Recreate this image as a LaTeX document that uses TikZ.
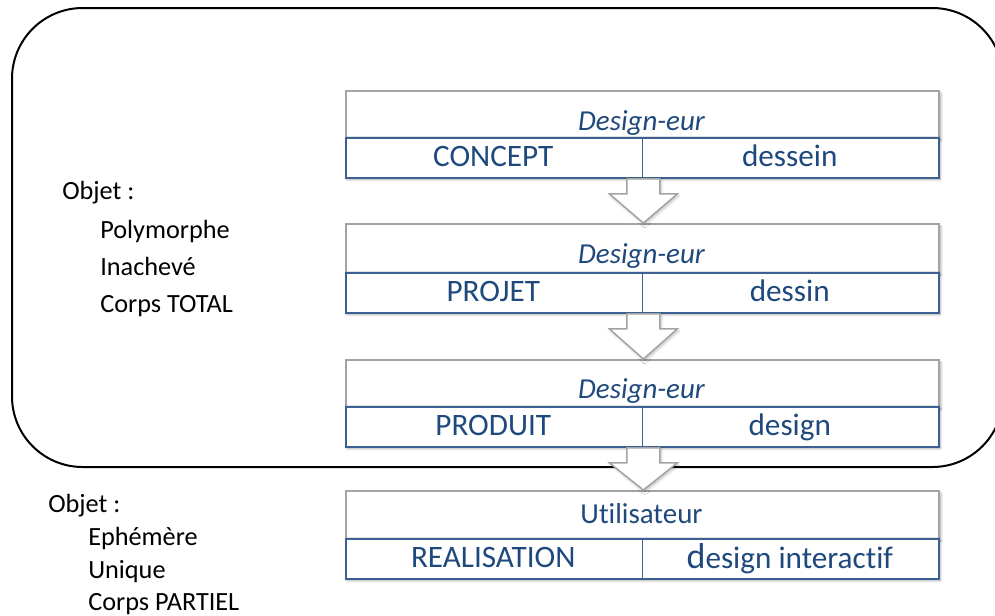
\documentclass[tikz,border=0pt]{standalone}
\usepackage{fontspec}
\setmainfont[Ligatures={NoCommon}]{Carlito}
\usetikzlibrary{shadows.blur}
\definecolor{txtblue}{HTML}{1F497D}
\definecolor{cellblue}{HTML}{3B6091}
\definecolor{boxgray}{HTML}{A3A3A3}
\begin{document}
\begin{tikzpicture}[x=0.75pt,y=-0.75pt,
  sh/.style={blur shadow={shadow xshift=1.5pt,shadow yshift=-1.8pt,shadow blur steps=6,shadow opacity=35}},
  headbox/.style={draw=boxgray,line width=1.3pt,fill=white,sh,minimum width=593*0.75pt,minimum height=47*0.75pt,anchor=north west,inner sep=0pt},
  cellbox/.style={draw=cellblue,line width=1.4pt,fill=white,minimum width=296.5*0.75pt,minimum height=40*0.75pt,anchor=north west,inner sep=0pt},
  celltxt/.style={text=txtblue,font=\fontsize{23.4}{27}\selectfont,anchor=base,inner sep=0pt},
  headtxt/.style={text=txtblue,font=\fontsize{21.7}{25}\selectfont\itshape,anchor=base,inner sep=0pt},
  sidetxt/.style={text=black,font=\fontsize{19.7}{23}\selectfont,anchor=base west,inner sep=0pt},
  downarrow/.style={draw=boxgray,line width=1.1pt,fill=white,line join=miter,
    blur shadow={shadow xshift=1pt,shadow yshift=-1.5pt,shadow blur steps=5,shadow opacity=25}}
]
\useasboundingbox (0,0) rectangle (995,615);
% outer rounded frame
\draw[line width=1.5pt,rounded corners=53pt] (12,8) rectangle (1003,467);

% boxes
\foreach \n/\t/\s in {1/90/137,2/223/272,3/359/406,4/490/538}{
  \node[headbox,minimum height={(\s-\t)*0.75pt}] (h\n) at (345,\t) {};
  \fill[white,sh] (345,\s) rectangle (938,\s+40);
  \node[cellbox] (l\n) at (345,\s) {};
  \node[cellbox] (r\n) at (641.5,\s) {};
}

% down arrows between boxes
\foreach \a/\b in {1/2,2/3,3/4}{
  \path let \p1=(l\a.south east), \p2=(h\b.north) in
    coordinate (s\a) at (\x1,\y1) coordinate (e\a) at (\x1,\y2);
  \filldraw[downarrow]
    ($(s\a)+(-16.5*0.75pt,0)$) -- ($(s\a)+(16.5*0.75pt,0)$)
    -- ($(s\a)+(16.5*0.75pt,-15*0.75pt)$) -- ($(s\a)+(34*0.75pt,-15*0.75pt)$)
    -- (e\a) -- ($(s\a)+(-34*0.75pt,-15*0.75pt)$)
    -- ($(s\a)+(-16.5*0.75pt,-15*0.75pt)$) -- cycle;
}

% texts in boxes
\node[headtxt] (d1) at (641.5,130) {Design-eur};
\node[celltxt] (c1) at (493.25,166) {CONCEPT};
\node[celltxt] (w1) at (789.75,166) {dessein};
\node[headtxt] (d2) at (641.5,263) {Design-eur};
\node[celltxt] (c2) at (493.25,301) {PROJET};
\node[celltxt] (w2) at (789.75,301) {dessin};
\node[headtxt] (d3) at (641.5,398) {Design-eur};
\node[celltxt] (c3) at (493.25,435) {PRODUIT};
\node[celltxt] (w3) at (789.75,435) {design};
\node[celltxt,font=\fontsize{21.7}{25}\selectfont] (d4) at (641.5,523) {Utilisateur};
\node[celltxt] (c4) at (493.25,567) {REALISATION};
\node[celltxt] (w4) at (789.75,568) {{\fontsize{27}{30}\selectfont d}esign interactif};

% side texts
\node[sidetxt] (o1) at (62,199) {Objet :};
\node[sidetxt] (p1) at (100,238) {Polymorphe};
\node[sidetxt] (p2) at (100,275) {Inachevé};
\node[sidetxt] (p3) at (100,312) {Corps TOTAL};
\node[sidetxt] (o2) at (48,512) {Objet :};
\node[sidetxt] (q1) at (88,545) {Ephémère};
\node[sidetxt] (q2) at (88,578) {Unique};
\node[sidetxt] (q3) at (88,610) {Corps PARTIEL};
\end{tikzpicture}
\end{document}
